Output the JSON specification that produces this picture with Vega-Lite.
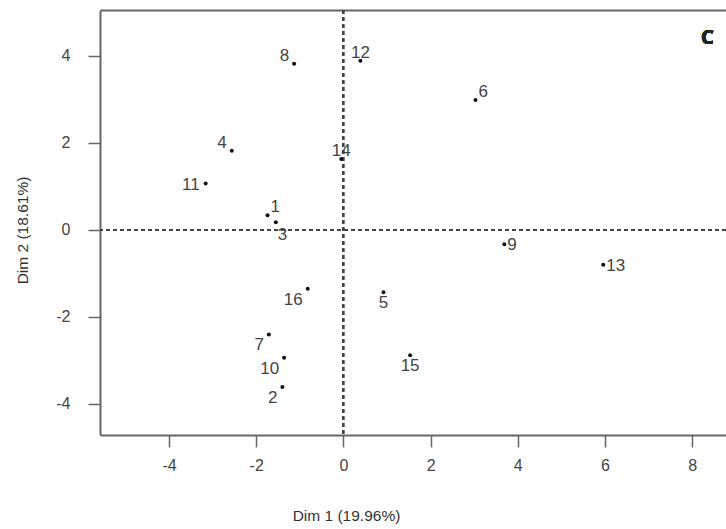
{
  "$schema": "https://vega.github.io/schema/vega-lite/v6.json",
  "width": 626,
  "height": 425,
  "autosize": {"type": "none"},
  "padding": {"left": 100, "top": 10, "right": 0, "bottom": 94},
  "background": "white",
  "config": {
    "view": {"stroke": null},
    "font": "Liberation Sans",
    "axis": {"grid": false}
  },
  "data": {
    "values": [
      {"id": "1", "d1": -1.74, "d2": 0.34},
      {"id": "2", "d1": -1.40, "d2": -3.61},
      {"id": "3", "d1": -1.55, "d2": 0.18},
      {"id": "4", "d1": -2.56, "d2": 1.82},
      {"id": "5", "d1": 0.92, "d2": -1.43},
      {"id": "6", "d1": 3.03, "d2": 2.99},
      {"id": "7", "d1": -1.71, "d2": -2.40},
      {"id": "8", "d1": -1.13, "d2": 3.82},
      {"id": "9", "d1": 3.69, "d2": -0.33},
      {"id": "10", "d1": -1.36, "d2": -2.94},
      {"id": "11", "d1": -3.16, "d2": 1.07},
      {"id": "12", "d1": 0.39, "d2": 3.89},
      {"id": "13", "d1": 5.96, "d2": -0.80},
      {"id": "14", "d1": -0.05, "d2": 1.63},
      {"id": "15", "d1": 1.53, "d2": -2.88},
      {"id": "16", "d1": -0.82, "d2": -1.35}
    ]
  },
  "resolve": {"axis": {"x": "independent"}},
  "layer": [
    {
      "mark": {"type": "rule", "color": "#444", "strokeDash": [4, 3], "strokeWidth": 1.3},
      "encoding": {
        "x": {
          "datum": 0, "type": "quantitative",
          "scale": {"domain": [-5.583, 8.775], "nice": false, "zero": false},
          "axis": {
            "orient": "bottom",
            "values": [-4, -2, 0, 2, 4, 6, 8],
            "labelExpr": "'' + datum.value",
            "domain": true, "domainColor": "#666", "domainWidth": 2,
            "ticks": true, "tickSize": 12, "tickColor": "#666", "tickWidth": 1.5,
            "labelFontSize": 16, "labelColor": "#444", "labelPadding": 10, "labelFont": "Liberation Sans",
            "title": "Dim 1 (19.96%)", "titleFontSize": 15.5, "titleFontWeight": "normal", "titleColor": "#333",
            "titleFont": "Liberation Sans",
            "titleX": 246, "titleY": 80, "titleBaseline": "middle", "titleAlign": "center"
          }
        }
      }
    },
    {
      "mark": {"type": "rule", "color": "#444", "strokeDash": [4, 3], "strokeWidth": 1.3},
      "encoding": {
        "y": {
          "datum": 0, "type": "quantitative",
          "scale": {"domain": [-4.713, 5.057], "nice": false, "zero": false},
          "axis": {
            "orient": "left",
            "values": [-4, -2, 0, 2, 4],
            "labelExpr": "'' + datum.value",
            "domain": true, "domainColor": "#666", "domainWidth": 2,
            "ticks": true, "tickSize": 12, "tickColor": "#666", "tickWidth": 1.5,
            "labelFontSize": 16, "labelColor": "#444", "labelPadding": 18, "labelFont": "Liberation Sans",
            "title": "Dim 2 (18.61%)", "titleFontSize": 15.5, "titleFontWeight": "normal", "titleColor": "#333",
            "titleFont": "Liberation Sans",
            "titleX": -78, "titleY": 220, "titleAngle": -90, "titleBaseline": "middle", "titleAlign": "center"
          }
        }
      }
    },
    {
      "mark": {"type": "circle", "color": "#111", "size": 16, "opacity": 1},
      "encoding": {
        "x": {"field": "d1", "type": "quantitative", "scale": {"domain": [-5.583, 8.775], "nice": false, "zero": false}, "axis": null},
        "y": {"field": "d2", "type": "quantitative", "scale": {"domain": [-4.713, 5.057], "nice": false, "zero": false}}
      }
    },
    {
      "transform": [{"filter": {"field": "id", "oneOf": ["12", "14"]}}],
      "mark": {"type": "text", "fontSize": 17, "color": "#444", "align": "center", "baseline": "middle", "dy": -8},
      "encoding": {
        "x": {"field": "d1", "type": "quantitative", "axis": null},
        "y": {"field": "d2", "type": "quantitative"},
        "text": {"field": "id"}
      }
    },
    {
      "transform": [{"filter": {"field": "id", "oneOf": ["6", "1"]}}],
      "mark": {"type": "text", "fontSize": 17, "color": "#444", "align": "left", "baseline": "middle", "dx": 3, "dy": -8},
      "encoding": {
        "x": {"field": "d1", "type": "quantitative", "axis": null},
        "y": {"field": "d2", "type": "quantitative"},
        "text": {"field": "id"}
      }
    },
    {
      "transform": [{"filter": {"field": "id", "oneOf": ["8", "4"]}}],
      "mark": {"type": "text", "fontSize": 17, "color": "#444", "align": "right", "baseline": "middle", "dx": -5, "dy": -8},
      "encoding": {
        "x": {"field": "d1", "type": "quantitative", "axis": null},
        "y": {"field": "d2", "type": "quantitative"},
        "text": {"field": "id"}
      }
    },
    {
      "transform": [{"filter": {"field": "id", "oneOf": ["11"]}}],
      "mark": {"type": "text", "fontSize": 17, "color": "#444", "align": "right", "baseline": "middle", "dx": -6, "dy": 2},
      "encoding": {
        "x": {"field": "d1", "type": "quantitative", "axis": null},
        "y": {"field": "d2", "type": "quantitative"},
        "text": {"field": "id"}
      }
    },
    {
      "transform": [{"filter": {"field": "id", "oneOf": ["9", "13"]}}],
      "mark": {"type": "text", "fontSize": 17, "color": "#444", "align": "left", "baseline": "middle", "dx": 3, "dy": 1},
      "encoding": {
        "x": {"field": "d1", "type": "quantitative", "axis": null},
        "y": {"field": "d2", "type": "quantitative"},
        "text": {"field": "id"}
      }
    },
    {
      "transform": [{"filter": {"field": "id", "oneOf": ["5", "15"]}}],
      "mark": {"type": "text", "fontSize": 17, "color": "#444", "align": "center", "baseline": "middle", "dy": 11},
      "encoding": {
        "x": {"field": "d1", "type": "quantitative", "axis": null},
        "y": {"field": "d2", "type": "quantitative"},
        "text": {"field": "id"}
      }
    },
    {
      "transform": [{"filter": {"field": "id", "oneOf": ["3"]}}],
      "mark": {"type": "text", "fontSize": 17, "color": "#444", "align": "left", "baseline": "middle", "dx": 2, "dy": 13},
      "encoding": {
        "x": {"field": "d1", "type": "quantitative", "axis": null},
        "y": {"field": "d2", "type": "quantitative"},
        "text": {"field": "id"}
      }
    },
    {
      "transform": [{"filter": {"field": "id", "oneOf": ["16", "7", "10", "2"]}}],
      "mark": {"type": "text", "fontSize": 17, "color": "#444", "align": "right", "baseline": "middle", "dx": -5, "dy": 11},
      "encoding": {
        "x": {"field": "d1", "type": "quantitative", "axis": null},
        "y": {"field": "d2", "type": "quantitative"},
        "text": {"field": "id"}
      }
    },
    {
      "mark": {"type": "text", "text": "C", "fontSize": 20, "fontWeight": "bold", "color": "#222", "align": "center", "baseline": "middle", "font": "Open Sans"},
      "encoding": {
        "x": {
          "datum": 8.35, "type": "quantitative",
          "axis": {"orient": "top", "domain": true, "domainColor": "#666", "domainWidth": 2, "ticks": false, "labels": false, "title": null}
        },
        "y": {"datum": 4.42, "type": "quantitative"}
      }
    }
  ]
}
